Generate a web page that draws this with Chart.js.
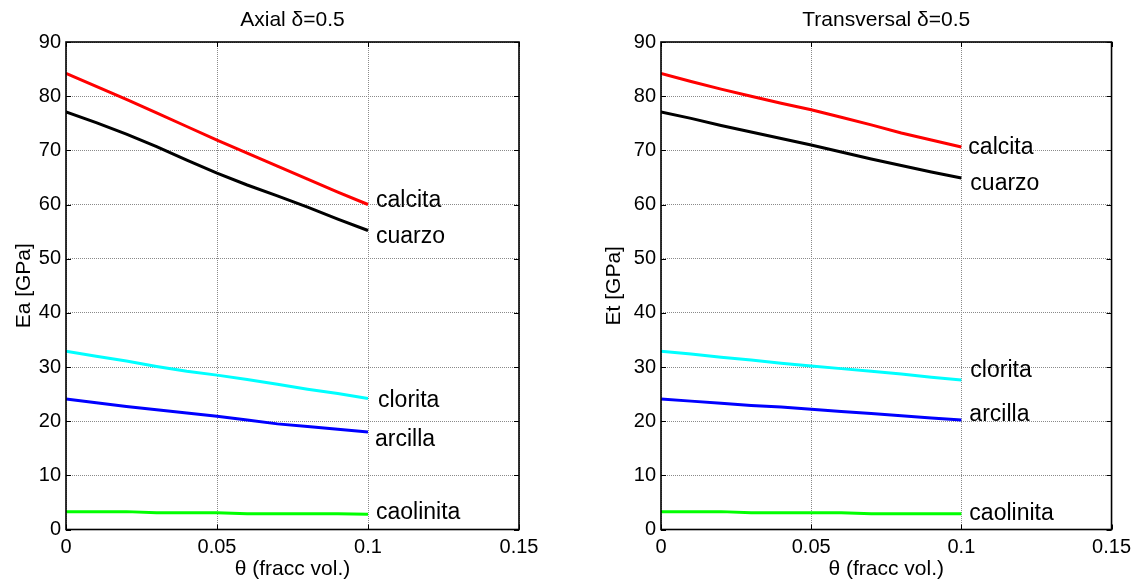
<!DOCTYPE html>
<html><head><meta charset="utf-8">
<script src="https://cdn.jsdelivr.net/npm/chart.js@4"></script>
<style>
html,body{margin:0;padding:0;background:#fff;width:1137px;height:582px;overflow:hidden}
.box{position:absolute;top:0;height:582px}
</style></head><body>
<div class="box" style="left:0;width:560px"><canvas id="c1" width="560" height="582"></canvas></div>
<div class="box" style="left:568px;width:569px"><canvas id="c2" width="569" height="582"></canvas></div>
<script>
// ---- data ----
const theta = [0, 0.01, 0.02, 0.03, 0.04, 0.05, 0.06, 0.07, 0.08, 0.09, 0.1];
const minerals = ['calcita', 'cuarzo', 'clorita', 'arcilla', 'caolinita'];
const axialCalcita   = [84.2, 81.8, 79.4, 76.9, 74.4, 71.9, 69.5, 67.1, 64.7, 62.3, 60.0];
const axialCuarzo    = [77.1, 75.1, 73.0, 70.7, 68.2, 65.8, 63.6, 61.6, 59.5, 57.3, 55.2];
const axialClorita   = [32.9, 32.0, 31.1, 30.1, 29.2, 28.5, 27.7, 26.8, 25.9, 25.1, 24.2];
const axialArcilla   = [24.1, 23.4, 22.7, 22.1, 21.5, 20.9, 20.2, 19.5, 19.0, 18.5, 18.0];
const axialCaolinita = [3.3, 3.3, 3.3, 3.1, 3.1, 3.1, 2.9, 2.9, 2.9, 2.9, 2.8];
const transCalcita   = [84.2, 82.7, 81.3, 80.0, 78.7, 77.5, 76.1, 74.7, 73.2, 71.9, 70.6];
const transCuarzo    = [77.1, 75.9, 74.6, 73.4, 72.2, 71.0, 69.7, 68.4, 67.2, 66.0, 64.9];
const transClorita   = [32.9, 32.4, 31.8, 31.3, 30.7, 30.2, 29.7, 29.2, 28.7, 28.1, 27.6];
const transArcilla   = [24.1, 23.7, 23.3, 22.9, 22.6, 22.2, 21.8, 21.4, 21.0, 20.6, 20.2];
const transCaolinita = [3.3, 3.3, 3.3, 3.1, 3.1, 3.1, 3.1, 2.9, 2.9, 2.9, 2.9];
const xTicks = [0, 0.05, 0.1, 0.15];
const xTickLabels = ['0', '0.05', '0.1', '0.15'];
const yTicks = [0, 10, 20, 30, 40, 50, 60, 70, 80, 90];
const yTickLabels = ['0', '10', '20', '30', '40', '50', '60', '70', '80', '90'];

// ---- style ----
const FONT = '"Liberation Sans", Arial, Helvetica, sans-serif';
const colors = ['#ff0000', '#000000', '#00ffff', '#0000ff', '#00ff00'];
const GRID = '#8a8a8a';

const framePlugin = {
  id: 'frame',
  afterDatasetsDraw(chart) {
    const {ctx, chartArea: a, scales: {x, y}} = chart;
    ctx.save();
    ctx.strokeStyle = '#000';
    ctx.lineWidth = 1;
    const tl = 5;
    ctx.beginPath();
    yTicks.forEach(v => {
      const py = Math.round(y.getPixelForValue(v)) + 0.5;
      ctx.moveTo(a.left, py); ctx.lineTo(a.left + tl, py);
      ctx.moveTo(a.right, py); ctx.lineTo(a.right - tl, py);
    });
    xTicks.forEach(v => {
      const px = Math.round(x.getPixelForValue(v)) + 0.5;
      ctx.moveTo(px, a.bottom); ctx.lineTo(px, a.bottom - tl);
      ctx.moveTo(px, a.top); ctx.lineTo(px, a.top + tl);
    });
    ctx.stroke();
    ctx.lineWidth = 1.6;
    ctx.strokeRect(a.left, a.top, a.right - a.left, a.bottom - a.top);
    ctx.restore();
  }
};

const endLabels = {
  id: 'endLabels',
  afterDatasetsDraw(chart, args, opts) {
    const {ctx} = chart;
    ctx.save();
    ctx.font = '23px ' + FONT;
    ctx.fillStyle = '#000';
    ctx.textAlign = 'left';
    ctx.textBaseline = 'alphabetic';
    chart.data.datasets.forEach((ds, i) => {
      const pts = chart.getDatasetMeta(i).data;
      const p = pts[pts.length - 1];
      const o = opts.offsets[i];
      ctx.fillText(ds.label, p.x + o[0], p.y + o[1]);
    });
    ctx.restore();
  }
};

function makeChart(id, title, yTitle, series, cfg) {
  return new Chart(document.getElementById(id), {
    type: 'line',
    data: {
      datasets: series.map((s, i) => ({
        label: minerals[i],
        data: theta.map((t, j) => ({x: t, y: s[j]})),
        borderColor: colors[i],
        borderWidth: 3,
        pointRadius: 0,
        fill: false,
        tension: 0
      }))
    },
    options: {
      responsive: false,
      animation: false,
      events: [],
      layout: {padding: {left: cfg.padLeft, right: cfg.padRight, top: 0, bottom: 0}},
      plugins: {
        legend: {display: false},
        tooltip: {enabled: false},
        title: {
          display: true, text: title, fullSize: false, color: '#000',
          font: {family: FONT, size: 21, weight: 'normal', lineHeight: 1.2},
          padding: {top: 7.4, bottom: 9.4}
        },
        endLabels: {offsets: cfg.offsets}
      },
      scales: {
        x: {
          type: 'linear', min: 0, max: 0.15,
          afterFit: s => { s.height = 52.5; },
          afterBuildTicks: s => { s.ticks = xTicks.map(v => ({value: v})); },
          ticks: {
            callback: (v, i) => xTickLabels[i],
            color: '#000', font: {family: FONT, size: 20}, padding: 6,
            maxRotation: 0, autoSkip: false
          },
          grid: {color: GRID, lineWidth: 1, drawTicks: false},
          border: {display: false, dash: [1, 1]},
          title: {
            display: true, text: 'θ (fracc vol.)', color: '#000',
            font: {family: FONT, size: 21, lineHeight: 1.2}, padding: 0
          }
        },
        y: {
          type: 'linear', min: 0, max: 90,
          afterFit: s => { s.width = 66; },
          afterBuildTicks: s => { s.ticks = yTicks.map(v => ({value: v})); },
          ticks: {
            callback: (v, i) => yTickLabels[i],
            color: '#000', font: {family: FONT, size: 20}, padding: 5, autoSkip: false
          },
          grid: {color: GRID, lineWidth: 1, drawTicks: false},
          border: {display: false, dash: [1, 1]},
          title: {
            display: true, text: yTitle, color: '#000',
            font: {family: FONT, size: 21, lineHeight: 1.2},
            padding: {top: cfg.yTitlePad, bottom: 0}
          }
        }
      }
    },
    plugins: [framePlugin, endLabels]
  });
}

makeChart('c1', 'Axial δ=0.5', 'Ea [GPa]',
  [axialCalcita, axialCuarzo, axialClorita, axialArcilla, axialCaolinita],
  {padLeft: 0, padRight: 41, yTitlePad: 11.4,
   offsets: [[8, 2.5], [8, 12.5], [10, 8.6], [7, 13.7], [8, 4.7]]});

makeChart('c2', 'Transversal δ=0.5', 'Et [GPa]',
  [transCalcita, transCuarzo, transClorita, transArcilla, transCaolinita],
  {padLeft: 27, padRight: 24, yTitlePad: 6.4,
   offsets: [[7, 7], [9, 12], [9, -2.7], [8, 0.6], [8, 6.2]]});
</script>
</body></html>
